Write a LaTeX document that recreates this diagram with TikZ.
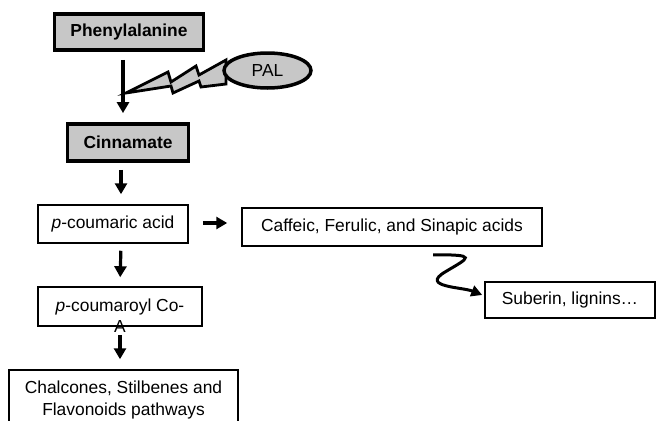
\documentclass[tikz,border=0pt]{standalone}
\usepackage{fontspec}
\setmainfont{Liberation Sans}
\usepackage{tikz}
\usetikzlibrary{shapes.geometric, arrows.meta, positioning, calc}

\newcommand{\boxfont}{\fontsize{17.4}{22}\selectfont}

\tikzset{
  heavybox/.style={draw, line width=3.8pt, fill=black!22, inner sep=0pt, font=\boxfont\bfseries},
  plainbox/.style={draw, line width=1.5pt, inner sep=0pt, minimum height=38pt, font=\boxfont},
  arr/.style={line width=3.2pt, -{Triangle[length=11pt,width=12pt]}},
  bolt/.style={draw, line width=2.8pt, fill=black!22, line join=miter},
}

\begin{document}
\begin{tikzpicture}[x=1pt, y=-1pt]

		\useasboundingbox (0,0) rectangle (657,421);
		\clip (0,0) rectangle (657,421);

		%//top of the pathway
		\node [heavybox, minimum width=149pt, minimum height=36pt] (phe) at (129, 32) {Phenylalanine};
		\node [heavybox, minimum width=121pt, minimum height=37pt] (cin) at (128, 142.5) {Cinnamate};

		\draw[arr, shorten <=8pt, shorten >=9pt] ([xshift=-6pt]phe.south) -- ([xshift=-5pt]cin.north);

		%//enzyme and its bolt
		\draw[bolt] (126,93) -- (168,72) -- (171,82) -- (196,66) -- (199,75) -- (226,60)
		  -- (226,84) -- (201,87) -- (199,81) -- (173,93) -- (171,86) -- cycle;
		\node [ellipse, draw, line width=3.5pt, fill=black!22, inner sep=0pt, minimum width=87pt, minimum height=35pt, font=\boxfont] (pal) at (267.5, 70.5) {PAL};

		%//lower boxes
		\node [plainbox, minimum width=150pt] (pca) at (113, 224) {\textit{p}-coumaric acid};
		\node [plainbox, minimum width=300pt] (caf) at (392, 227) {Caffeic, Ferulic, and Sinapic acids};
		\node [plainbox, minimum width=170pt, minimum height=36pt] (sub) at (570, 300) {Suberin, lignins…};
		\node [plainbox, minimum width=164pt, minimum height=39pt,
		  label={[inner sep=0pt, label distance=-6pt, font=\boxfont]below:A}] (coa) at (120, 306.5) {\textit{p}-coumaroyl Co-};
		\node [plainbox, minimum width=229pt, minimum height=60pt, align=center] (chal) at (123.5, 400) {Chalcones, Stilbenes and\\Flavonoids pathways};

		\draw[arr, shorten <=7pt, shorten >=10pt] ([xshift=-7pt]cin.south) -- ([xshift=8pt]pca.north);
		\draw[arr, shorten <=14pt, shorten >=14pt] ([yshift=1pt]pca.east) -- ([yshift=1pt]pca.east -| caf.west);
		\draw[arr, shorten <=7pt, shorten >=9pt] ([xshift=8pt]pca.south) -- (coa.north);
		\draw[arr, shorten <=8pt, shorten >=10pt] (coa.south) -- (coa.south |- chal.north);

		\draw[line width=3pt, -{Triangle[length=11pt,width=11pt]}] ([xshift=41pt, yshift=-8pt]caf.south)
		  .. controls +(45,0) and +(25,-15) .. (445,272)
		  .. controls +(-25,15) and +(-20,-8) .. ([xshift=-2pt, yshift=5pt]sub.west);

\end{tikzpicture}
\end{document}
